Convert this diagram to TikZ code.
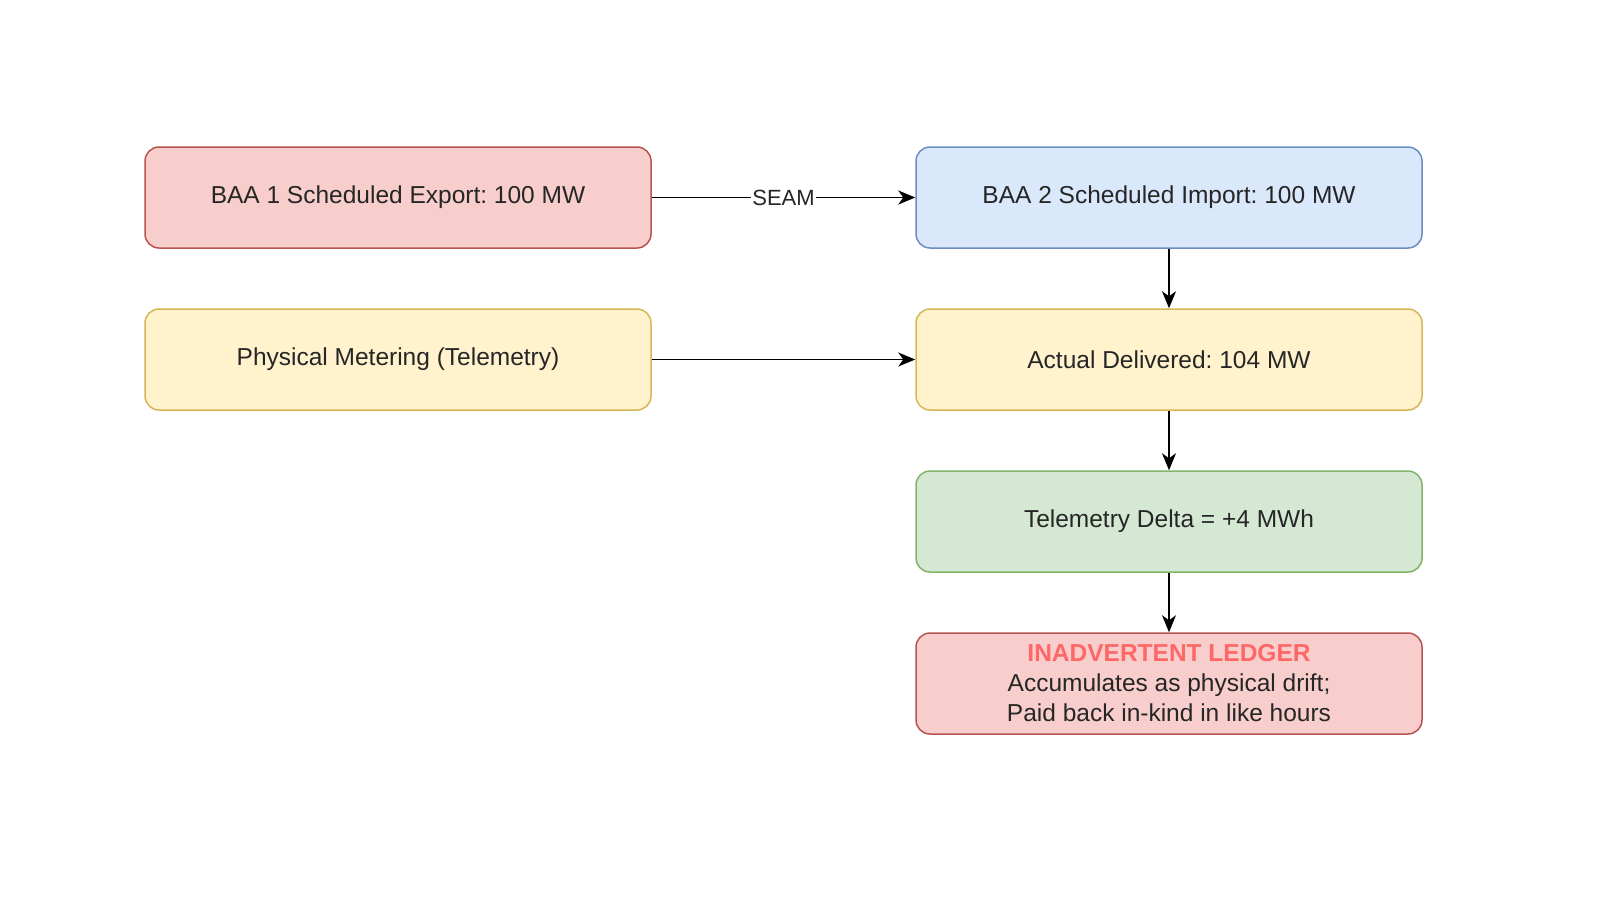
\documentclass[tikz,border=0pt]{standalone}
\usepackage{fontspec}
\setmainfont{Liberation Sans}
\usetikzlibrary{arrows.meta}
\frenchspacing
\definecolor{redfill}{HTML}{F8CECC}
\definecolor{redline}{HTML}{B85450}
\definecolor{bluefill}{HTML}{DAE8FC}
\definecolor{blueline}{HTML}{6C8EBF}
\definecolor{yelfill}{HTML}{FFF2CC}
\definecolor{yelline}{HTML}{D6B656}
\definecolor{grnfill}{HTML}{D5E8D4}
\definecolor{grnline}{HTML}{82B366}
\definecolor{titlered}{HTML}{FF6666}
\begin{document}
\begin{tikzpicture}[x=1pt,y=-1pt,
  box/.style={rounded corners=14pt, line width=1.5pt, minimum width=506pt, minimum height=101pt,
    inner sep=0pt, align=center, font=\fontsize{24.5}{30}\selectfont, text=black!85},
  redbox/.style={box, draw=redline, fill=redfill},
  bluebox/.style={box, draw=blueline, fill=bluefill},
  yelbox/.style={box, draw=yelline, fill=yelfill},
  grnbox/.style={box, draw=grnline, fill=grnfill},
  conn/.style={line width=1.5pt, -{Stealth[length=17pt,width=14pt,inset=5pt]}},
  lbl/.style={fill=white, inner sep=1pt, font=\fontsize{22}{24}\selectfont, text=black!85}
]
\useasboundingbox (0,0) rectangle (1600,900);
\node[redbox] (baa1) at (398,197.5) {BAA 1 Scheduled Export: 100 MW};
\node[bluebox] (baa2) at (1169,197.5) {BAA 2 Scheduled Import: 100 MW};
\node[yelbox] (meter) at (398,359.5) {Physical Metering (Telemetry)};
\node[yelbox] (actual) at (1169,359.5) {Actual Delivered: 104 MW};
\node[grnbox] (delta) at (1169,521.5) {Telemetry Delta = +4 MWh};
\node[redbox] (ledger) at (1169,683.5) {{\color{titlered}\bfseries INADVERTENT LEDGER}\\Accumulates as physical drift;\\Paid back in-kind in like hours};
\draw[conn] (baa1) -- node[lbl] {SEAM} (baa2);
\draw[conn] (meter) -- (actual);
\draw[conn] (baa2) -- (actual);
\draw[conn] (actual) -- (delta);
\draw[conn] (delta) -- (ledger);
\end{tikzpicture}
\end{document}
